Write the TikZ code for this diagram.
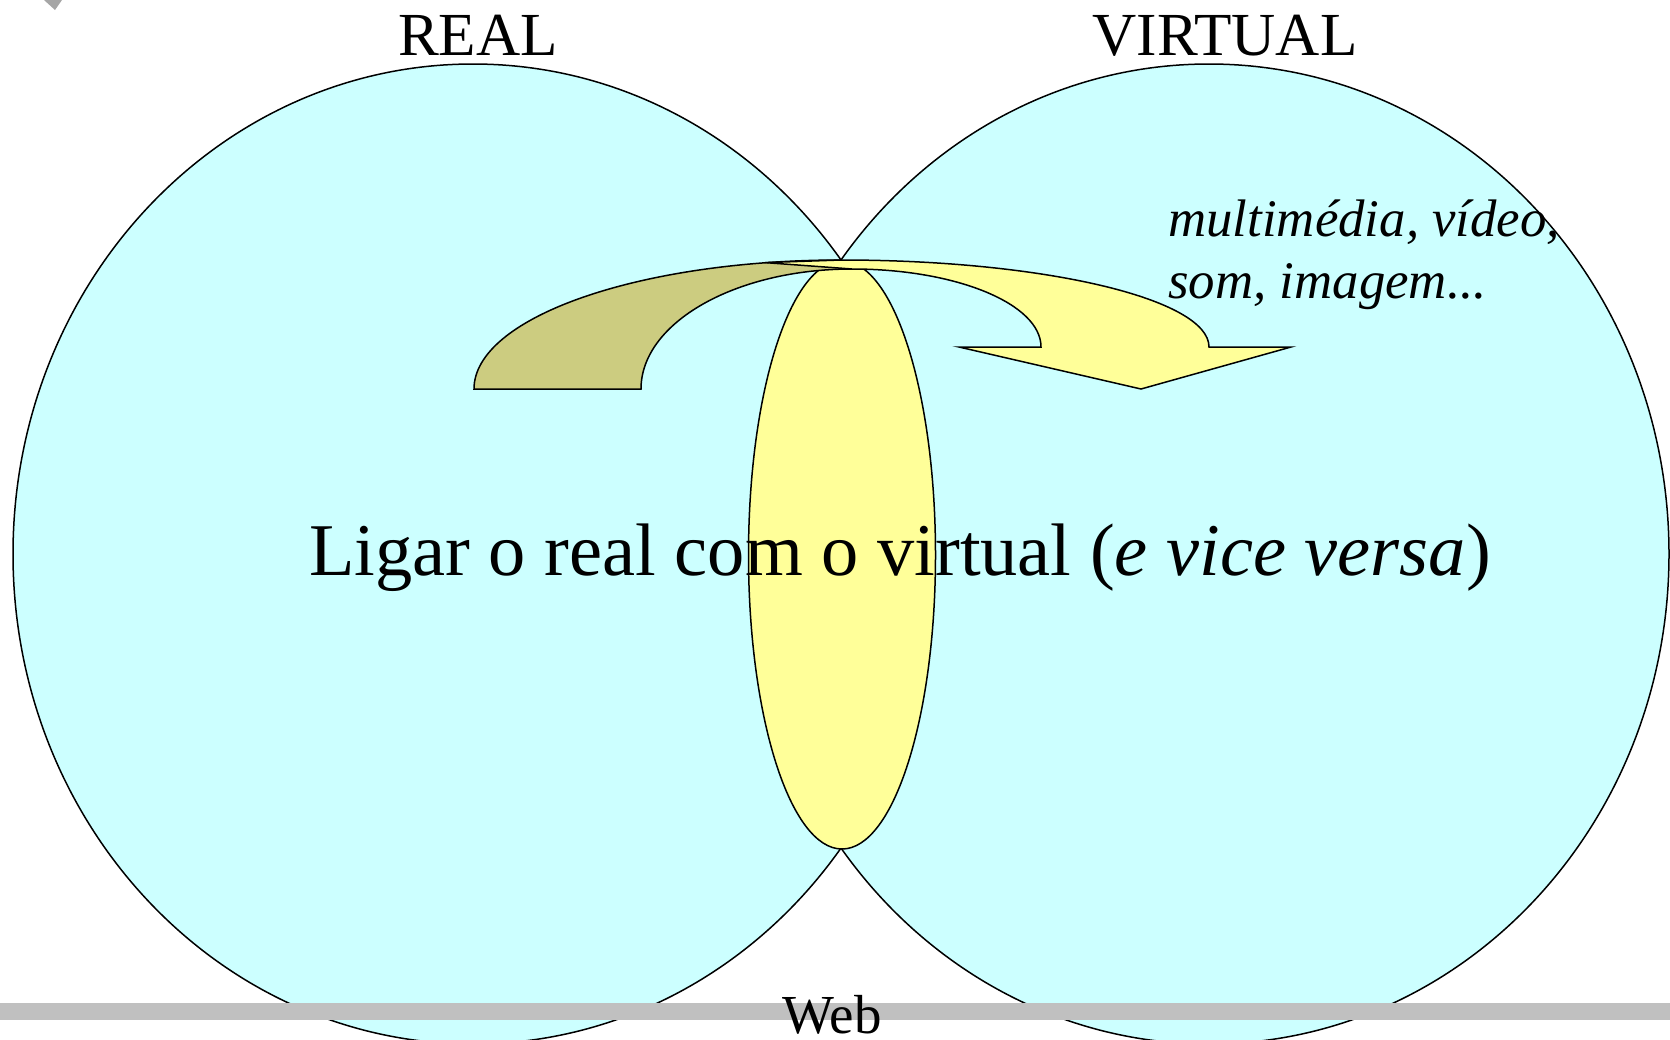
\documentclass[tikz,border=0pt]{standalone}
\usepackage{fontspec}
\setmainfont{Liberation Serif}
\definecolor{cyanfill}{HTML}{CCFFFF}
\definecolor{lensyellow}{HTML}{FFFF99}
\definecolor{olivefill}{HTML}{CCCC80}
\definecolor{bargrey}{HTML}{C0C0C0}
\tikzset{
  outline/.style={draw=black,line width=0.75pt},
  lbl/.style={anchor=base,inner sep=0pt,text=black},
}
\begin{document}
\begin{tikzpicture}[x=0.5pt,y=-0.5pt]
\useasboundingbox (0,0) rectangle (1670,1039);
\clip (0,0) rectangle (1670,1039);
% small grey mark top-left
\fill[gray!70] (44,0) -- (62,0) -- (55,10) -- cycle;
% circles
\filldraw[outline,fill=cyanfill] (473,554) ellipse [x radius=230pt,y radius=245pt];
\filldraw[outline,fill=cyanfill] (1209,554) ellipse [x radius=230pt,y radius=245pt];
% lens ellipse
\filldraw[outline,fill=lensyellow] (842,555) ellipse [x radius=46.75pt,y radius=147pt];
% curved arrow: back (olive) part
\filldraw[outline,fill=olivefill,line join=miter] (474,389)
  arc[start angle=180,end angle=90,x radius=183.5pt,y radius=64.5pt]
  -- (852,269)
  arc[start angle=90,end angle=180,x radius=105.5pt,y radius=60pt]
  -- cycle;
% front (yellow) part with head
\filldraw[outline,fill=lensyellow,line join=miter] (765,262.6) -- (841,260)
  arc[start angle=90,end angle=0,x radius=184pt,y radius=43.5pt]
  -- (1291,347) -- (1141,389) -- (959,347) -- (1041,347)
  arc[start angle=0,end angle=90,x radius=94.5pt,y radius=39pt]
  -- cycle;
% bar
\fill[bargrey] (0,1003) rectangle (1670,1020);
% texts
\node[lbl,font=\fontsize{30.6}{36}\selectfont] (real) at (478,55) {REAL};
\node[lbl,font=\fontsize{30.6}{36}\selectfont] (virtual) at (1225,55) {VIRTUAL};
\node[lbl,anchor=base west,font=\fontsize{26.4}{31}\selectfont\itshape] (mm1) at (1168,236) {multimédia, vídeo,};
\node[lbl,anchor=base west,font=\fontsize{26.4}{31}\selectfont\itshape] (mm2) at (1168,298) {som, imagem...};
\node[lbl,font=\fontsize{37.2}{44}\selectfont] (main) at (900,575) {Ligar o real com o virtual (\textit{e vice versa})};
\node[lbl,font=\fontsize{27.5}{32}\selectfont] (web) at (832,1033) {Web};
\end{tikzpicture}
\end{document}
